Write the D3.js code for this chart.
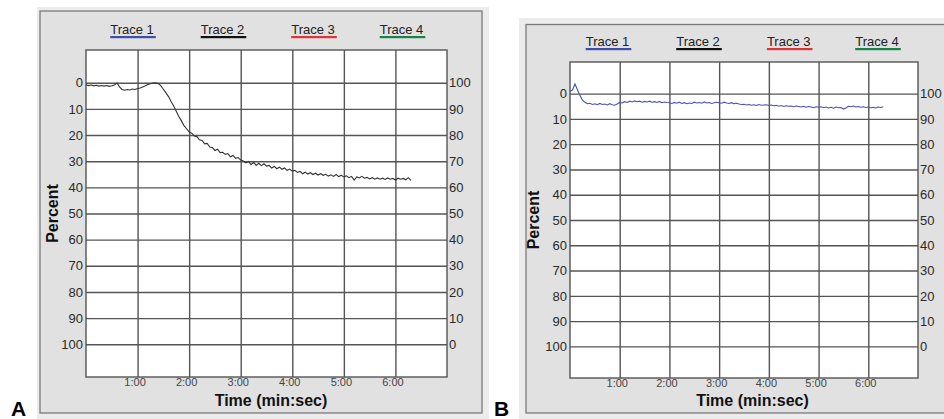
<!DOCTYPE html>
<html>
<head>
<meta charset="utf-8">
<script src="https://cdn.jsdelivr.net/npm/d3@7"></script>
<style>
  body { margin: 0; background: #fff; }
  svg { display: block; font-family: "Liberation Sans", Arial, sans-serif; }
  .tick text { fill: #2a2a2a; }
  .tick line { stroke: #555; stroke-width: 1.4; }
</style>
</head>
<body>
<svg id="chart" width="944" height="419"></svg>
<script>

// legend
var traceNames = ["Trace 1", "Trace 2", "Trace 3", "Trace 4"];
var traceColors = ["#3d4fa8", "#111111", "#e2323a", "#15834b"];

// axes
var percentTicks = [0, 10, 20, 30, 40, 50, 60, 70, 80, 90, 100];
var rightTickLabels = [100, 90, 80, 70, 60, 50, 40, 30, 20, 10, 0];
var timeTicks = [1, 2, 3, 4, 5, 6];
var timeTickLabels = ["1:00", "2:00", "3:00", "4:00", "5:00", "6:00"];

// one reading every 0.05 min, starting at 0:00
var sampleStep = 0.05;

// panel A, trace 2 (percent)
var traceA = [
  0.8, 1.1, 0.9, 1.2, 1.0, 1.3, 1.1, 1.3, 1.1, 1.4,
  1.2, 0.9, 0.1, 1.6, 2.6, 2.9, 2.6, 2.8, 2.4, 2.6,
  2.2, 2.0, 1.6, 1.2, 0.7, 0.4, 0.1, 0.0, 0.3, 1.1,
  2.5, 3.9, 5.3, 7.2, 8.9, 10.9, 12.9, 14.6, 16.4, 17.6,
  18.8, 19.3, 20.4, 20.6, 21.8, 22.1, 23.4, 23.2, 24.6, 24.8,
  25.9, 25.4, 26.7, 26.6, 27.4, 27.1, 28.3, 27.8, 28.9, 28.6,
  29.6, 29.9, 30.6, 30.1, 31.3, 30.4, 31.6, 30.8, 31.7, 31.0,
  31.9, 31.6, 32.6, 32.0, 32.9, 32.3, 33.1, 32.6, 33.5, 33.0,
  33.8, 33.5, 34.3, 33.9, 34.8, 34.2, 34.9, 34.4, 35.1, 34.6,
  35.3, 34.8, 35.4, 35.0, 35.7, 35.2, 35.8, 35.1, 35.9, 35.4,
  36.0, 35.6, 36.3, 35.8, 37.2, 36.0, 36.4, 35.8, 36.5, 36.2,
  36.8, 36.3, 36.9, 36.4, 36.9, 36.5, 37.0, 36.4, 36.9, 36.6,
  37.2, 36.5, 36.9, 36.6, 37.1, 36.3, 37.3
];

// panel B, trace 1 (percent)
var traceB = [
  -0.9, -1.4, -3.8, -1.5, 0.8, 2.6, 3.4, 4.0, 3.8, 4.3,
  4.0, 4.4, 3.9, 4.3, 4.1, 4.5, 4.0, 4.4, 4.6, 4.1,
  3.5, 3.7, 3.2, 3.5, 3.0, 3.3, 2.9, 3.2, 3.0, 3.4,
  3.1, 3.3, 3.0, 3.4, 3.2, 3.5, 3.1, 3.6, 3.3, 3.5,
  3.6, 3.9, 3.5, 3.8, 3.4, 3.9, 3.6, 4.0, 3.7, 3.9,
  3.4, 3.7, 3.5, 3.8, 3.3, 3.7, 3.5, 3.9, 3.6, 3.4,
  3.6, 3.8, 3.4, 3.7, 3.9, 3.6, 4.0, 3.8, 4.1, 4.3,
  4.2, 4.5, 4.3, 4.6, 4.4, 4.7, 4.3, 4.6, 4.5, 4.4,
  4.7, 4.5, 4.8, 4.6, 5.0, 4.7, 5.1, 4.8, 5.0, 4.9,
  5.2, 4.9, 5.1, 5.3, 5.0, 5.4, 5.1, 5.3, 5.6, 5.2,
  5.4, 5.2, 5.6, 5.3, 5.7, 5.4, 5.8, 5.3, 5.6, 5.5,
  6.1, 5.7, 5.0, 5.2, 4.9, 5.3, 5.1, 5.4, 5.2, 5.5,
  5.3, 5.6, 5.4, 5.7, 5.3, 5.5, 5.2
];

var panels = [
  {letter: "A", data: traceA, lineColor: "#333333",
   band: {x: 37, y: 7, w: 452, h: 420}, frame: {x: 40, y: 11, w: 442, h: 402},
   plot: {left: 86, top: 50, right: 447, bottom: 377},
   legendX: [132, 222.5, 313, 401.5], percentX: 52, titleX: 271, letterX: 11},
  {letter: "B", data: traceB, lineColor: "#4a52b8",
   band: {x: 519, y: 18, w: 440, h: 410}, frame: {x: 526, y: 24.5, w: 440, h: 388.5},
   plot: {left: 570, top: 62, right: 918, bottom: 378},
   legendX: [607.5, 698, 788.7, 877], percentX: 533, titleX: 752.5, letterX: 494}
];

var svg = d3.select("#chart");

panels.forEach(function(p) {

  var width = p.plot.right - p.plot.left,
      height = p.plot.bottom - p.plot.top;

  var x = d3.scaleLinear()
      .domain([0, 7])
      .range([p.plot.left, p.plot.right]);

  var y = d3.scaleLinear()
      .domain([-12.5, 112.5])
      .range([p.plot.top, p.plot.bottom]);

  var g = svg.append("g").attr("class", "panel");

  g.append("rect")
      .attr("x", p.band.x).attr("y", p.band.y)
      .attr("width", p.band.w).attr("height", p.band.h)
      .style("fill", "#ececec");

  g.append("rect")
      .attr("x", p.frame.x).attr("y", p.frame.y)
      .attr("width", p.frame.w).attr("height", p.frame.h)
      .style("fill", "#e1e1e1")
      .style("stroke", "#7a7a7a")
      .style("stroke-width", 1.3);

  g.append("rect")
      .attr("x", p.plot.left).attr("y", p.plot.top)
      .attr("width", width).attr("height", height)
      .style("fill", "#fff");

  // horizontal grid + left labels
  g.append("g")
      .attr("transform", "translate(" + p.plot.left + ",0)")
      .call(d3.axisLeft(y)
        .tickValues(percentTicks)
        .tickSize(-width)
        .tickPadding(3))
      .call(function(a) { a.select(".domain").remove(); })
      .selectAll("text")
      .style("font-size", "13px");

  // right labels
  g.append("g")
      .attr("transform", "translate(" + p.plot.right + ",0)")
      .call(d3.axisRight(y)
        .tickValues(percentTicks)
        .tickSize(0)
        .tickPadding(2)
        .tickFormat(function(d, i) { return rightTickLabels[i]; }))
      .call(function(a) { a.select(".domain").remove(); })
      .selectAll("text")
      .style("font-size", "13px");

  // vertical grid + time labels
  g.append("g")
      .attr("transform", "translate(0," + p.plot.bottom + ")")
      .call(d3.axisBottom(x)
        .tickValues(timeTicks)
        .tickSize(-height)
        .tickPadding(1)
        .tickFormat(function(d, i) { return timeTickLabels[i]; }))
      .call(function(a) { a.select(".domain").remove(); })
      .selectAll("text")
      .attr("dx", -3)
      .style("font-size", "11px")
      .style("fill", "#444");

  g.append("rect")
      .attr("x", p.plot.left).attr("y", p.plot.top)
      .attr("width", width).attr("height", height)
      .style("fill", "none")
      .style("stroke", "#555")
      .style("stroke-width", 1.4);

  g.append("path")
      .datum(p.data)
      .attr("d", d3.line()
        .x(function(d, i) { return x(i * sampleStep); })
        .y(function(d) { return y(d); }))
      .style("fill", "none")
      .style("stroke", p.lineColor)
      .style("stroke-width", 1.1);

  // legend
  var legend = g.append("g").selectAll(".legend")
      .data(traceNames)
    .enter().append("g")
      .attr("class", "legend");

  legend.append("text")
      .attr("x", function(d, i) { return p.legendX[i]; })
      .attr("y", p.plot.top - 16)
      .style("text-anchor", "middle")
      .style("font-size", "13px")
      .style("fill", "#222")
      .text(function(d) { return d; });

  legend.append("rect")
      .attr("x", function(d, i) {
        var w = this.parentNode.querySelector("text").getComputedTextLength();
        return p.legendX[i] - w / 2;
      })
      .attr("y", p.plot.top - 14)
      .attr("width", function() {
        return this.parentNode.querySelector("text").getComputedTextLength() + 2;
      })
      .attr("height", 2.2)
      .style("fill", function(d, i) { return traceColors[i]; });

  g.append("text")
      .attr("transform", "translate(" + p.percentX + "," + (p.plot.top + p.plot.bottom) / 2 + ")rotate(-90)")
      .attr("dy", ".35em")
      .style("text-anchor", "middle")
      .style("font-size", "16px")
      .style("font-weight", "bold")
      .style("fill", "#111")
      .text("Percent");

  g.append("text")
      .attr("x", p.titleX)
      .attr("y", 406)
      .style("text-anchor", "middle")
      .style("font-size", "16px")
      .style("font-weight", "bold")
      .style("fill", "#111")
      .text("Time (min:sec)");

  g.append("text")
      .attr("x", p.letterX)
      .attr("y", 416)
      .style("font-size", "21px")
      .style("font-weight", "bold")
      .style("fill", "#000")
      .text(p.letter);
});

</script>
</body>
</html>
